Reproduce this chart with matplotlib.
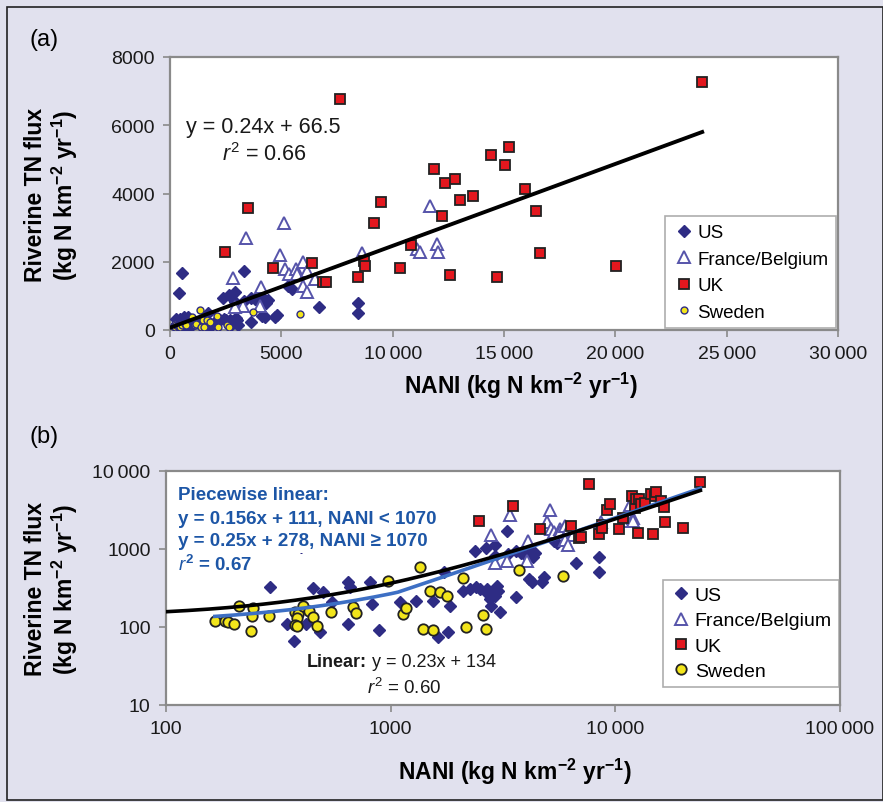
import numpy as np
import matplotlib
matplotlib.use('Agg')
import matplotlib.pyplot as plt
from matplotlib.ticker import FixedLocator, FuncFormatter, NullLocator
from matplotlib.patches import Rectangle

plt.rcParams['font.family'] = ['Liberation Sans', 'DejaVu Sans']
plt.rcParams['mathtext.fontset'] = 'custom'
plt.rcParams['mathtext.rm'] = 'Liberation Sans'
plt.rcParams['mathtext.it'] = 'Liberation Sans:italic'
plt.rcParams['mathtext.bf'] = 'Liberation Sans:bold'

# ---- data (NANI, riverine TN flux), kg N km-2 yr-1 ----
us_x = [290, 345, 372, 421, 453, 502, 485, 547, 649, 656, 649, 811, 824, 883, 1100,
        1300, 1550, 1630, 1800, 1720, 1840, 2100, 2250, 2410, 2500, 2680, 2720, 2770,
        2800, 2920, 2960, 3010, 3070, 3620, 2377, 2660, 2917, 2917, 3340, 3620, 3800,
        4000, 4150, 4300, 4400, 3311, 4110, 4260, 4800, 4710, 6680, 8430, 8430, 5310,
        5490, 525, 400]
us_y = [323, 109, 66, 109, 316, 279, 86, 209, 380, 323, 109, 374, 197, 92, 207,
        217, 217, 74, 86, 500, 184, 292, 307, 322, 307, 307, 265, 229,
        187, 252, 339, 293, 154, 240, 933, 1021, 1125, 820, 863, 951, 900,
        820, 960, 790, 880, 1718, 412, 374, 434, 374, 662, 782, 512, 1280,
        1200, 1660, 1075]

fr_x = [5130, 3400, 2810, 4940, 4090, 5150, 5360, 5660, 5690, 5990, 6140, 6510, 5990,
        6170, 3290, 2920, 4040, 8640, 11670, 11080, 11225, 11975, 12020]
fr_y = [3130, 2700, 1510, 2200, 1250, 1790, 1650, 1790, 1640, 2000, 1740, 1490, 1300,
        1120, 710, 660, 710, 2250, 3640, 2370, 2275, 2520, 2290]

uk_x = [2470, 3500, 7630, 4610, 6360, 6890, 7000, 8430, 8710, 8760, 9150, 9490, 10330,
        10840, 11850, 12200, 12350, 12800, 12570, 13020, 13620, 14400, 14670, 15040,
        15220, 15960, 16420, 16610, 20010, 23900]
uk_y = [2284, 3572, 6764, 1815, 1950, 1400, 1420, 1540, 2030, 1880, 3130, 3740, 1815,
        2490, 4730, 3350, 4320, 4420, 1610, 3810, 3930, 5120, 1540, 4830,
        5350, 4130, 3480, 2250, 1880, 7270]

sw_x = [165, 183, 189, 200, 211, 241, 245, 239, 286, 376, 388, 382, 376, 382, 406, 431,
        450, 469, 541, 679, 702, 977, 1130, 1170, 1350, 1490, 1650, 1780, 1390, 1540,
        2090, 2170, 2570, 2670, 3740, 5840]
sw_y = [120, 120, 115, 109, 187, 140, 174, 90, 140, 154, 147, 129, 106, 104, 187, 162,
        135, 102, 157, 182, 151, 393, 146, 174, 593, 292, 283, 248, 94, 92,
        421, 101, 143, 94, 538, 455]

# fitted models from the chart annotations
lin_a = (0.24, 66.5)
lin_b = (0.23, 134)
pw_low = (0.156, 111)
pw_high = 0.25
pw_break = 1070

# ---- colours ----
bg = '#e1e1ee'
c_us = '#2e2c84'
c_fr = '#5654aa'
c_uk = '#e3171e'
c_sw = '#f2e51b'
c_blue_txt = '#1d56a6'
c_blue_line = '#3d6fc4'
spine_c = '#8a8a8a'


def thousands(v, pos):
    v = int(round(v))
    if v >= 10000:
        return f'{v:,}'.replace(',', '\u2009')
    return str(v)


fig = plt.figure(figsize=(8.83, 8.03), dpi=100, facecolor=bg)
fig.patches.append(Rectangle((0.008, 0.002), 0.992, 0.988, transform=fig.transFigure,
                             fill=False, edgecolor='#222222', linewidth=1.2))

W, H = 883, 803


def box(l, t, r, b):
    return [l / W, 1 - b / H, (r - l) / W, (b - t) / H]


def style(ax):
    for s in ax.spines.values():
        s.set_color(spine_c)
        s.set_linewidth(1.6)
    ax.tick_params(axis='both', colors=spine_c, length=5, width=1.2, labelsize=14,
                   labelcolor='#1a1a1a', pad=6)


lab_y = 'Riverine TN flux\n(kg N km$^{\\mathbf{-2}}$ yr$^{\\mathbf{-1}}$)'
lab_x = 'NANI (kg N km$^{\\mathbf{-2}}$ yr$^{\\mathbf{-1}}$)'

# ---------------- panel (a) ----------------
ax1 = fig.add_axes(box(170, 58, 838, 331))
style(ax1)
ax1.set_xlim(0, 30000)
ax1.set_ylim(0, 8000)
ax1.xaxis.set_major_locator(FixedLocator([0, 5000, 10000, 15000, 20000, 25000, 30000]))
ax1.yaxis.set_major_locator(FixedLocator([0, 2000, 4000, 6000, 8000]))
ax1.xaxis.set_major_formatter(FuncFormatter(thousands))

ax1.plot(us_x, us_y, ls='none', marker='D', ms=6.5, mfc=c_us, mec=c_us, label='US', zorder=3)
ax1.plot(fr_x, fr_y, ls='none', marker='^', ms=8, mfc='white', mec=c_fr, mew=1.4,
         label='France/Belgium', zorder=3)
ax1.plot(uk_x, uk_y, ls='none', marker='s', ms=6.5, mfc=c_uk, mec='#222222', mew=1.3,
         label='UK', zorder=4)
ax1.plot(sw_x, sw_y, ls='none', marker='o', ms=5, mfc=c_sw, mec=c_us, mew=1.0,
         label='Sweden', zorder=4)
xa = np.array([0, max(uk_x)])
ax1.plot(xa, lin_a[0] * xa + lin_a[1], color='black', lw=2.8, zorder=5)

ax1.text(0.024, 0.744, 'y = 0.24x + 66.5', transform=ax1.transAxes, fontsize=15.5,
         color='#1a1a1a', va='center')
ax1.text(0.078, 0.648, '$\\it{r}^2$ = 0.66', transform=ax1.transAxes, fontsize=15.5,
         color='#1a1a1a', va='center')

leg1 = ax1.legend(loc='lower right', bbox_to_anchor=(0.997, 0.007), fontsize=13.5,
                  frameon=True, fancybox=False, edgecolor='#999999', borderpad=0.4,
                  handletextpad=0.1, handlelength=1.2, labelspacing=0.5, borderaxespad=0)
leg1.get_frame().set_linewidth(1.2)

fig.text(30 / W, 1 - 40 / H, '(a)', fontsize=17, va='center', ha='left')
fig.text(52 / W, 1 - 195 / H, lab_y, rotation=90, fontsize=16.5, fontweight='bold',
         ha='center', va='center', multialignment='center', linespacing=1.1)
fig.text(521 / W, 1 - 386 / H, lab_x, fontsize=16.5, fontweight='bold', ha='center',
         va='center')

# ---------------- panel (b) ----------------
ax2 = fig.add_axes(box(166, 472, 840, 706))
style(ax2)
ax2.set_xscale('log')
ax2.set_yscale('log')
ax2.set_xlim(100, 100000)
ax2.set_ylim(10, 10000)
ax2.xaxis.set_major_locator(FixedLocator([100, 1000, 10000, 100000]))
ax2.yaxis.set_major_locator(FixedLocator([10, 100, 1000, 10000]))
ax2.xaxis.set_minor_locator(NullLocator())
ax2.yaxis.set_minor_locator(NullLocator())
ax2.xaxis.set_major_formatter(FuncFormatter(thousands))
ax2.yaxis.set_major_formatter(FuncFormatter(thousands))

ax2.plot(us_x, us_y, ls='none', marker='D', ms=6.5, mfc=c_us, mec=c_us, label='US', zorder=3)
ax2.plot(fr_x, fr_y, ls='none', marker='^', ms=8.5, mfc='white', mec=c_fr, mew=1.4,
         label='France/Belgium', zorder=3)
ax2.plot(uk_x, uk_y, ls='none', marker='s', ms=7.5, mfc=c_uk, mec='#222222', mew=1.3,
         label='UK', zorder=4)
ax2.plot(sw_x, sw_y, ls='none', marker='o', ms=7.5, mfc=c_sw, mec='#222222', mew=1.3,
         label='Sweden', zorder=4)

xb = np.logspace(2, np.log10(max(uk_x)), 200)
ax2.plot(xb, lin_b[0] * xb + lin_b[1], color='black', lw=2.6, zorder=6)
xp = np.logspace(np.log10(min(sw_x)), np.log10(max(uk_x)), 200)
yp = np.where(xp < pw_break, pw_low[0] * xp + pw_low[1],
              pw_low[0] * pw_break + pw_low[1] + pw_high * (xp - pw_break))
ax2.plot(xp, yp, color=c_blue_line, lw=2.6, zorder=5)

blue_lines = ['Piecewise linear:', 'y = 0.156x + 111, NANI < 1070',
              'y = 0.25x + 278, NANI \u2265 1070', '$\\it{r}^\\mathbf{2}$ = 0.67']
for i, t in enumerate(blue_lines):
    fig.text(178 / W, 1 - (496 + 23 * i) / H, t, fontsize=13.5, fontweight='bold',
             color=c_blue_txt, va='center', ha='left', zorder=10,
             bbox=dict(facecolor='white', edgecolor='none', pad=2.5))
fig.text(307 / W, 1 - 663 / H, 'Linear:', fontsize=13, fontweight='bold',
         color='#1a1a1a', va='center', ha='left')
fig.text(372 / W, 1 - 663 / H, 'y = 0.23x + 134', fontsize=13,
         color='#1a1a1a', va='center', ha='left')
fig.text(367 / W, 1 - 688 / H, '$\\it{r}^2$ = 0.60', fontsize=13.5, color='#1a1a1a',
         va='center', ha='left')

leg2 = ax2.legend(loc='lower right', bbox_to_anchor=(0.998, 0.077), fontsize=14,
                  frameon=True, fancybox=False, edgecolor='#999999', borderpad=0.35,
                  handletextpad=0.1, handlelength=1.2, labelspacing=0.4, borderaxespad=0)
leg2.get_frame().set_linewidth(1.2)

fig.text(30 / W, 1 - 437 / H, '(b)', fontsize=17, va='center', ha='left')
fig.text(52 / W, 1 - 589 / H, lab_y, rotation=90, fontsize=16.5, fontweight='bold',
         ha='center', va='center', multialignment='center', linespacing=1.1)
fig.text(515 / W, 1 - 772 / H, lab_x, fontsize=16.5, fontweight='bold', ha='center',
         va='center')

fig.savefig('out.png', dpi=100, facecolor=bg)
